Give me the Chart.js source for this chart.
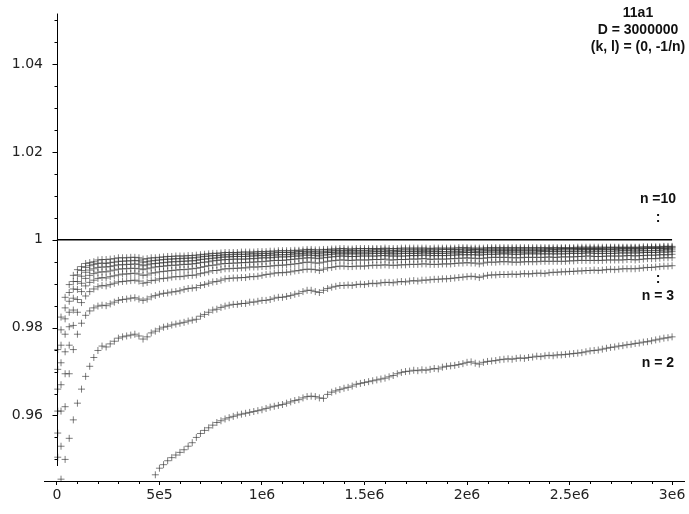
<!DOCTYPE html>
<html><head><meta charset="utf-8">
<script src="https://cdn.jsdelivr.net/npm/chart.js@4.4.1/dist/chart.umd.min.js"></script>
<style>html,body{margin:0;padding:0;background:#fff;}canvas{display:block;}</style>
</head><body>
<canvas id="c" width="689" height="514"></canvas>
<script>
// ---- sampling of the x axis (D values) ----
const firstSampleX = 4000;
const sampleStep = 20000;
const sampleCount = 150;

// ---- axis ticks ----
const xTicks = [0, 500000, 1000000, 1500000, 2000000, 2500000, 3000000];
const xTickLabels = ['0', '5e5', '1e6', '1.5e6', '2e6', '2.5e6', '3e6'];
const yTicks = [0.96, 0.98, 1, 1.02, 1.04];
const yTickLabels = ['0.96', '0.98', '1', '1.02', '1.04'];
const yAxisSpan = [0.9485, 1.0515];

// ---- reference line y = 1 ----
const refLineX = [0, 3000000];
const refLineY = [1, 1];

// ---- series (n = 2 .. 10): first value at firstSampleX, then one per sampleStep ----
const seriesNames = ['n = 2', 'n = 3', 'n = 4', 'n = 5', 'n = 6', 'n = 7', 'n = 8', 'n = 9', 'n = 10'];

const s2 = [null,
null,null,null,null,null,null,null,null,null,null,
null,null,null,null,null,null,null,null,null,null,
null,null,null,0.9465,0.9480,0.9488,0.9497,0.9504,0.9510,0.9516,
0.9522,0.9530,0.9538,0.9550,0.9559,0.9566,0.9572,0.9578,0.9584,0.9588,
0.9592,0.9595,0.9598,0.9601,0.9603,0.9605,0.9607,0.9609,0.9611,0.9613,
0.9616,0.9619,0.9621,0.9623,0.9625,0.9628,0.9631,0.9634,0.9636,0.9640,
0.9643,0.9644,0.9643,0.9640,0.9639,0.9648,0.9653,0.9656,0.9659,0.9662,
0.9664,0.9667,0.9671,0.9673,0.9675,0.9677,0.9679,0.9681,0.9683,0.9685,
0.9688,0.9691,0.9695,0.9698,0.9700,0.9701,0.9703,0.9702,0.9704,0.9703,
0.9705,0.9707,0.9706,0.9710,0.9712,0.9713,0.9714,0.9716,0.9718,0.9721,
0.9722,0.9719,0.9717,0.9721,0.9723,0.9724,0.9725,0.9727,0.9728,0.9729,
0.9728,0.9730,0.9731,0.9730,0.9732,0.9733,0.9735,0.9734,0.9736,0.9737,
0.9736,0.9738,0.9738,0.9739,0.9740,0.9741,0.9742,0.9743,0.9745,0.9747,
0.9748,0.9749,0.9751,0.9753,0.9755,0.9756,0.9758,0.9759,0.9761,0.9762,
0.9764,0.9765,0.9767,0.9768,0.9770,0.9772,0.9774,0.9776,0.9777,0.9779];

const s3 = [null,
0.9455,0.9500,0.9548,0.9590,0.9628,0.9660,0.9689,0.9712,0.9732,0.9748,
0.9758,0.9756,0.9763,0.9769,0.9776,0.9779,0.9781,0.9783,0.9785,0.9781,
0.9774,0.9779,0.9788,0.9792,0.9797,0.9801,0.9803,0.9806,0.9808,0.9810,
0.9812,0.9815,0.9817,0.9819,0.9826,0.9830,0.9835,0.9840,0.9842,0.9846,
0.9849,0.9851,0.9853,0.9853,0.9855,0.9855,0.9858,0.9858,0.9860,0.9862,
0.9862,0.9864,0.9867,0.9869,0.9869,0.9871,0.9873,0.9876,0.9878,0.9882,
0.9885,0.9885,0.9882,0.9880,0.9885,0.9889,0.9892,0.9894,0.9896,0.9896,
0.9897,0.9896,0.9898,0.9899,0.9898,0.9900,0.9901,0.9900,0.9902,0.9903,
0.9903,0.9902,0.9904,0.9905,0.9904,0.9906,0.9907,0.9906,0.9908,0.9908,
0.9909,0.9910,0.9910,0.9911,0.9911,0.9912,0.9913,0.9914,0.9915,0.9916,
0.9917,0.9916,0.9914,0.9917,0.9919,0.9920,0.9920,0.9921,0.9921,0.9921,
0.9922,0.9921,0.9922,0.9923,0.9922,0.9923,0.9924,0.9924,0.9923,0.9925,
0.9926,0.9926,0.9927,0.9927,0.9928,0.9928,0.9929,0.9929,0.9930,0.9930,
0.9931,0.9930,0.9931,0.9932,0.9933,0.9932,0.9933,0.9934,0.9934,0.9934,
0.9934,0.9935,0.9936,0.9937,0.9937,0.9938,0.9939,0.9940,0.9940,0.9941];

const s4 = [null,
0.9530,0.9620,0.9695,0.9750,0.9785,0.9810,0.9828,0.9838,0.9845,0.9849,
0.9851,0.9850,0.9854,0.9858,0.9862,0.9864,0.9865,0.9867,0.9868,0.9865,
0.9862,0.9865,0.9870,0.9873,0.9876,0.9878,0.9879,0.9881,0.9882,0.9884,
0.9887,0.9889,0.9890,0.9891,0.9896,0.9898,0.9901,0.9904,0.9905,0.9908,
0.9911,0.9912,0.9913,0.9913,0.9914,0.9914,0.9916,0.9916,0.9917,0.9919,
0.9921,0.9922,0.9924,0.9925,0.9925,0.9926,0.9927,0.9929,0.9930,0.9932,
0.9933,0.9933,0.9932,0.9930,0.9933,0.9936,0.9937,0.9939,0.9940,0.9940,
0.9939,0.9939,0.9940,0.9940,0.9940,0.9941,0.9942,0.9942,0.9942,0.9943,
0.9942,0.9942,0.9942,0.9943,0.9943,0.9944,0.9944,0.9944,0.9945,0.9945,
0.9944,0.9944,0.9944,0.9945,0.9945,0.9945,0.9946,0.9947,0.9947,0.9948,
0.9947,0.9947,0.9945,0.9947,0.9949,0.9949,0.9949,0.9950,0.9950,0.9950,
0.9949,0.9949,0.9949,0.9950,0.9950,0.9950,0.9950,0.9951,0.9951,0.9951,
0.9951,0.9951,0.9951,0.9951,0.9952,0.9952,0.9953,0.9953,0.9953,0.9953,
0.9953,0.9953,0.9953,0.9954,0.9954,0.9954,0.9954,0.9954,0.9955,0.9955,
0.9954,0.9955,0.9956,0.9957,0.9957,0.9957,0.9958,0.9959,0.9959,0.9959];

const s5 = [0.9505,
0.9610,0.9695,0.9760,0.9805,0.9835,0.9857,0.9872,0.9882,0.9888,0.9893,
0.9896,0.9895,0.9898,0.9901,0.9904,0.9905,0.9906,0.9907,0.9908,0.9906,
0.9901,0.9903,0.9907,0.9908,0.9911,0.9912,0.9913,0.9915,0.9916,0.9916,
0.9917,0.9919,0.9919,0.9920,0.9923,0.9925,0.9927,0.9930,0.9930,0.9932,
0.9934,0.9934,0.9935,0.9935,0.9936,0.9936,0.9938,0.9938,0.9938,0.9939,
0.9939,0.9940,0.9941,0.9942,0.9942,0.9943,0.9944,0.9945,0.9946,0.9948,
0.9949,0.9949,0.9947,0.9947,0.9949,0.9951,0.9952,0.9953,0.9954,0.9954,
0.9953,0.9953,0.9954,0.9954,0.9954,0.9954,0.9955,0.9955,0.9955,0.9956,
0.9954,0.9954,0.9955,0.9955,0.9955,0.9956,0.9956,0.9956,0.9957,0.9957,
0.9955,0.9956,0.9956,0.9956,0.9956,0.9957,0.9957,0.9958,0.9958,0.9959,
0.9958,0.9958,0.9957,0.9958,0.9959,0.9960,0.9960,0.9960,0.9960,0.9960,
0.9959,0.9959,0.9959,0.9960,0.9960,0.9960,0.9960,0.9960,0.9960,0.9961,
0.9960,0.9960,0.9961,0.9961,0.9961,0.9961,0.9962,0.9962,0.9963,0.9963,
0.9962,0.9962,0.9962,0.9963,0.9963,0.9963,0.9963,0.9963,0.9964,0.9964,
0.9963,0.9964,0.9964,0.9965,0.9965,0.9965,0.9966,0.9966,0.9966,0.9967];

const s6 = [0.9560,
0.9670,0.9745,0.9802,0.9840,0.9864,0.9882,0.9895,0.9903,0.9908,0.9912,
0.9914,0.9913,0.9916,0.9918,0.9920,0.9922,0.9922,0.9923,0.9924,0.9922,
0.9919,0.9920,0.9924,0.9925,0.9927,0.9928,0.9929,0.9930,0.9931,0.9932,
0.9932,0.9933,0.9934,0.9935,0.9937,0.9939,0.9941,0.9942,0.9943,0.9945,
0.9946,0.9946,0.9947,0.9947,0.9948,0.9948,0.9949,0.9949,0.9950,0.9950,
0.9951,0.9952,0.9953,0.9953,0.9953,0.9954,0.9955,0.9956,0.9957,0.9958,
0.9959,0.9959,0.9958,0.9957,0.9959,0.9960,0.9961,0.9962,0.9963,0.9963,
0.9962,0.9962,0.9962,0.9963,0.9963,0.9963,0.9963,0.9963,0.9964,0.9964,
0.9963,0.9963,0.9963,0.9963,0.9963,0.9964,0.9964,0.9964,0.9965,0.9965,
0.9964,0.9964,0.9964,0.9964,0.9964,0.9965,0.9965,0.9966,0.9966,0.9966,
0.9966,0.9966,0.9965,0.9966,0.9967,0.9967,0.9967,0.9968,0.9968,0.9968,
0.9967,0.9967,0.9967,0.9968,0.9968,0.9968,0.9968,0.9968,0.9968,0.9968,
0.9968,0.9968,0.9968,0.9968,0.9969,0.9969,0.9969,0.9969,0.9970,0.9970,
0.9969,0.9969,0.9969,0.9969,0.9969,0.9969,0.9970,0.9970,0.9970,0.9970,
0.9970,0.9970,0.9971,0.9971,0.9971,0.9971,0.9972,0.9972,0.9972,0.9973];

const s7 = [0.9610,
0.9720,0.9785,0.9835,0.9867,0.9887,0.9901,0.9912,0.9919,0.9923,0.9926,
0.9927,0.9927,0.9929,0.9931,0.9933,0.9934,0.9934,0.9935,0.9935,0.9934,
0.9932,0.9934,0.9936,0.9938,0.9939,0.9940,0.9941,0.9942,0.9942,0.9943,
0.9944,0.9944,0.9945,0.9946,0.9948,0.9949,0.9950,0.9952,0.9953,0.9954,
0.9955,0.9955,0.9956,0.9956,0.9956,0.9956,0.9957,0.9957,0.9958,0.9959,
0.9959,0.9959,0.9960,0.9961,0.9961,0.9961,0.9962,0.9963,0.9963,0.9965,
0.9965,0.9965,0.9964,0.9963,0.9965,0.9966,0.9967,0.9968,0.9968,0.9968,
0.9968,0.9968,0.9968,0.9968,0.9968,0.9968,0.9969,0.9969,0.9969,0.9969,
0.9968,0.9968,0.9968,0.9969,0.9969,0.9969,0.9969,0.9969,0.9970,0.9970,
0.9969,0.9969,0.9969,0.9969,0.9969,0.9970,0.9970,0.9970,0.9971,0.9971,
0.9971,0.9971,0.9970,0.9971,0.9972,0.9972,0.9972,0.9972,0.9972,0.9972,
0.9972,0.9972,0.9972,0.9972,0.9972,0.9972,0.9972,0.9973,0.9973,0.9973,
0.9973,0.9973,0.9973,0.9973,0.9973,0.9973,0.9974,0.9974,0.9974,0.9974,
0.9974,0.9974,0.9974,0.9974,0.9974,0.9974,0.9975,0.9975,0.9975,0.9975,
0.9974,0.9975,0.9975,0.9975,0.9975,0.9976,0.9976,0.9977,0.9977,0.9977];

const s8 = [0.9660,
0.9760,0.9820,0.9860,0.9888,0.9905,0.9917,0.9926,0.9931,0.9934,0.9937,
0.9938,0.9938,0.9939,0.9941,0.9943,0.9943,0.9944,0.9944,0.9945,0.9944,
0.9941,0.9943,0.9945,0.9946,0.9947,0.9948,0.9949,0.9950,0.9950,0.9951,
0.9951,0.9952,0.9952,0.9953,0.9955,0.9956,0.9957,0.9958,0.9959,0.9960,
0.9961,0.9961,0.9962,0.9962,0.9962,0.9962,0.9963,0.9963,0.9964,0.9964,
0.9964,0.9965,0.9965,0.9966,0.9966,0.9966,0.9967,0.9968,0.9968,0.9969,
0.9970,0.9970,0.9969,0.9968,0.9970,0.9971,0.9971,0.9972,0.9972,0.9972,
0.9972,0.9972,0.9972,0.9972,0.9972,0.9972,0.9973,0.9973,0.9973,0.9973,
0.9972,0.9972,0.9973,0.9973,0.9973,0.9973,0.9973,0.9973,0.9974,0.9974,
0.9973,0.9973,0.9973,0.9973,0.9973,0.9974,0.9974,0.9974,0.9974,0.9975,
0.9975,0.9974,0.9974,0.9975,0.9975,0.9976,0.9976,0.9976,0.9976,0.9976,
0.9976,0.9976,0.9976,0.9976,0.9976,0.9976,0.9976,0.9976,0.9976,0.9977,
0.9977,0.9977,0.9977,0.9977,0.9977,0.9977,0.9978,0.9978,0.9978,0.9978,
0.9978,0.9978,0.9978,0.9978,0.9978,0.9978,0.9979,0.9979,0.9979,0.9979,
0.9979,0.9979,0.9979,0.9980,0.9980,0.9980,0.9980,0.9980,0.9980,0.9981];

const s9 = [0.9705,
0.9795,0.9845,0.9880,0.9905,0.9920,0.9930,0.9937,0.9941,0.9944,0.9946,
0.9947,0.9946,0.9948,0.9949,0.9951,0.9951,0.9952,0.9952,0.9953,0.9952,
0.9949,0.9950,0.9952,0.9953,0.9954,0.9955,0.9956,0.9956,0.9957,0.9957,
0.9958,0.9958,0.9959,0.9959,0.9961,0.9962,0.9963,0.9964,0.9964,0.9965,
0.9966,0.9966,0.9967,0.9967,0.9967,0.9967,0.9968,0.9968,0.9968,0.9969,
0.9969,0.9969,0.9970,0.9971,0.9971,0.9971,0.9971,0.9972,0.9973,0.9973,
0.9974,0.9974,0.9973,0.9972,0.9974,0.9974,0.9975,0.9976,0.9976,0.9976,
0.9976,0.9976,0.9976,0.9976,0.9976,0.9976,0.9977,0.9977,0.9977,0.9977,
0.9976,0.9976,0.9976,0.9977,0.9977,0.9977,0.9977,0.9977,0.9977,0.9977,
0.9977,0.9977,0.9977,0.9978,0.9978,0.9978,0.9978,0.9978,0.9979,0.9979,
0.9978,0.9978,0.9978,0.9978,0.9979,0.9979,0.9979,0.9979,0.9979,0.9979,
0.9979,0.9979,0.9979,0.9979,0.9979,0.9979,0.9979,0.9979,0.9979,0.9980,
0.9979,0.9979,0.9980,0.9980,0.9980,0.9980,0.9980,0.9980,0.9980,0.9980,
0.9980,0.9980,0.9980,0.9981,0.9981,0.9981,0.9981,0.9981,0.9981,0.9981,
0.9981,0.9981,0.9981,0.9982,0.9982,0.9982,0.9982,0.9983,0.9983,0.9983];

const s10 = [0.9750,
0.9824,0.9869,0.9898,0.9919,0.9932,0.9939,0.9946,0.9948,0.9950,0.9954,
0.9955,0.9955,0.9956,0.9957,0.9959,0.9959,0.9959,0.9960,0.9960,0.9959,
0.9956,0.9957,0.9959,0.9959,0.9960,0.9961,0.9962,0.9962,0.9963,0.9963,
0.9963,0.9964,0.9964,0.9965,0.9966,0.9967,0.9968,0.9969,0.9969,0.9970,
0.9971,0.9971,0.9971,0.9971,0.9972,0.9972,0.9972,0.9972,0.9973,0.9973,
0.9973,0.9974,0.9974,0.9975,0.9975,0.9975,0.9975,0.9976,0.9976,0.9977,
0.9978,0.9978,0.9977,0.9977,0.9978,0.9978,0.9979,0.9979,0.9980,0.9980,
0.9979,0.9979,0.9980,0.9980,0.9980,0.9980,0.9980,0.9980,0.9980,0.9981,
0.9980,0.9980,0.9980,0.9981,0.9981,0.9981,0.9981,0.9981,0.9981,0.9981,
0.9980,0.9981,0.9981,0.9981,0.9981,0.9981,0.9981,0.9982,0.9982,0.9982,
0.9981,0.9981,0.9981,0.9981,0.9982,0.9982,0.9982,0.9982,0.9982,0.9982,
0.9982,0.9982,0.9982,0.9982,0.9982,0.9982,0.9982,0.9982,0.9982,0.9982,
0.9982,0.9982,0.9982,0.9982,0.9982,0.9982,0.9983,0.9983,0.9983,0.9983,
0.9983,0.9983,0.9983,0.9983,0.9983,0.9983,0.9983,0.9983,0.9983,0.9983,
0.9983,0.9983,0.9984,0.9984,0.9984,0.9984,0.9984,0.9985,0.9985,0.9985];

// ---- annotation texts ----
const titleLines = ['11a1', 'D = 3000000', '(k, l) = (0, -1/n)'];
const sideLabels = ['n =10', ':', ':', 'n = 3', 'n = 2'];

// ---- build ----
const xs = [firstSampleX].concat(Array.from({length: sampleCount}, (_, k) => (k + 1) * sampleStep));
const allSeries = [s2, s3, s4, s5, s6, s7, s8, s9, s10];
const markColor = 'rgba(40,40,40,0.6)';

const datasets = allSeries.map((vals, j) => ({
  type: 'scatter',
  label: seriesNames[j],
  data: xs.map((x, k) => ({x: x, y: vals[k]})).filter(p => p.y !== null && p.y !== undefined),
  pointStyle: 'cross',
  pointRadius: 3.5,
  pointHoverRadius: 3.5,
  borderColor: markColor,
  backgroundColor: markColor,
  borderWidth: 1
}));
datasets.push({
  type: 'line',
  label: 'y = 1',
  data: refLineX.map((x, k) => ({x: x, y: refLineY[k]})),
  borderColor: '#000',
  borderWidth: 1.5,
  pointRadius: 0,
  fill: false
});

const yMinor = [];
for (let k = 0; k <= 20; k++) { const v = +(0.95 + k * 0.005).toFixed(3); if (!yTicks.some(t => Math.abs(t - v) < 1e-9)) yMinor.push(v); }
const xMinor = [];
for (let k = 0; k <= 30; k++) { const v = k * 100000; if (!xTicks.includes(v)) xMinor.push(v); }

const decor = {
  id: 'decor',
  afterDraw(chart) {
    const ctx = chart.ctx;
    const sx = chart.scales.x, sy = chart.scales.y;
    ctx.save();
    ctx.strokeStyle = '#000';
    ctx.lineWidth = 1;
    const ax = Math.round(sx.getPixelForValue(0)) + 0.5;
    ctx.beginPath();
    ctx.moveTo(ax, sy.getPixelForValue(yAxisSpan[1]));
    ctx.lineTo(ax, sy.getPixelForValue(yAxisSpan[0]));
    yTicks.forEach(v => {
      const py = Math.round(sy.getPixelForValue(v)) + 0.5;
      ctx.moveTo(ax - 5, py); ctx.lineTo(ax, py);
    });
    yMinor.forEach(v => {
      const py = Math.round(sy.getPixelForValue(v)) + 0.5;
      ctx.moveTo(ax - 3, py); ctx.lineTo(ax, py);
    });
    const by = chart.chartArea.bottom;
    xMinor.forEach(v => {
      const px = Math.round(sx.getPixelForValue(v)) + 0.5;
      ctx.moveTo(px, by); ctx.lineTo(px, by + 3);
    });
    ctx.stroke();

    ctx.fillStyle = '#111';
    ctx.font = 'bold 14px "Liberation Sans", Arial, sans-serif';
    ctx.textAlign = 'center';
    ctx.textBaseline = 'middle';
    const tx = 638;
    titleLines.forEach((t, k) => ctx.fillText(t, tx, 13 + k * 17));
    const lx = 658;
    const ly = [199, 218, 279, 296, 363];
    sideLabels.forEach((t, k) => ctx.fillText(t, lx, ly[k]));
    ctx.restore();
  }
};

new Chart(document.getElementById('c'), {
  data: {datasets: datasets},
  options: {
    responsive: false,
    animation: false,
    devicePixelRatio: 1,
    events: [],
    layout: {padding: {left: 0, right: 1, top: 1, bottom: 0}},
    plugins: {legend: {display: false}, tooltip: {enabled: false}},
    scales: {
      x: {
        type: 'linear',
        position: 'bottom',
        min: -63000,
        max: 3060600,
        afterBuildTicks: s => { s.ticks = xTicks.map(v => ({value: v})); },
        afterFit: s => { s.height = 33; s.paddingLeft = 0; s.paddingRight = 0; },
        ticks: {
          autoSkip: false, maxRotation: 0, padding: 2,
          font: {family: 'DejaVu Sans', size: 14},
          color: '#222',
          callback: (v, i) => xTickLabels[i]
        },
        grid: {display: true, drawOnChartArea: false, drawTicks: true, tickLength: 4, tickColor: '#000', tickWidth: 1},
        border: {display: true, color: '#000', width: 1}
      },
      y: {
        type: 'linear',
        position: 'left',
        min: 0.945085,
        max: 1.053559,
        afterBuildTicks: s => { s.ticks = yTicks.map(v => ({value: v})); },
        afterFit: s => { s.width = 44; s.paddingTop = 0; s.paddingBottom = 0; },
        ticks: {
          autoSkip: false, padding: 1,
          font: {family: 'DejaVu Sans', size: 14},
          color: '#222',
          callback: (v, i) => yTickLabels[i]
        },
        grid: {display: false, drawTicks: false},
        border: {display: false}
      }
    }
  },
  plugins: [decor]
});
</script>
</body></html>
